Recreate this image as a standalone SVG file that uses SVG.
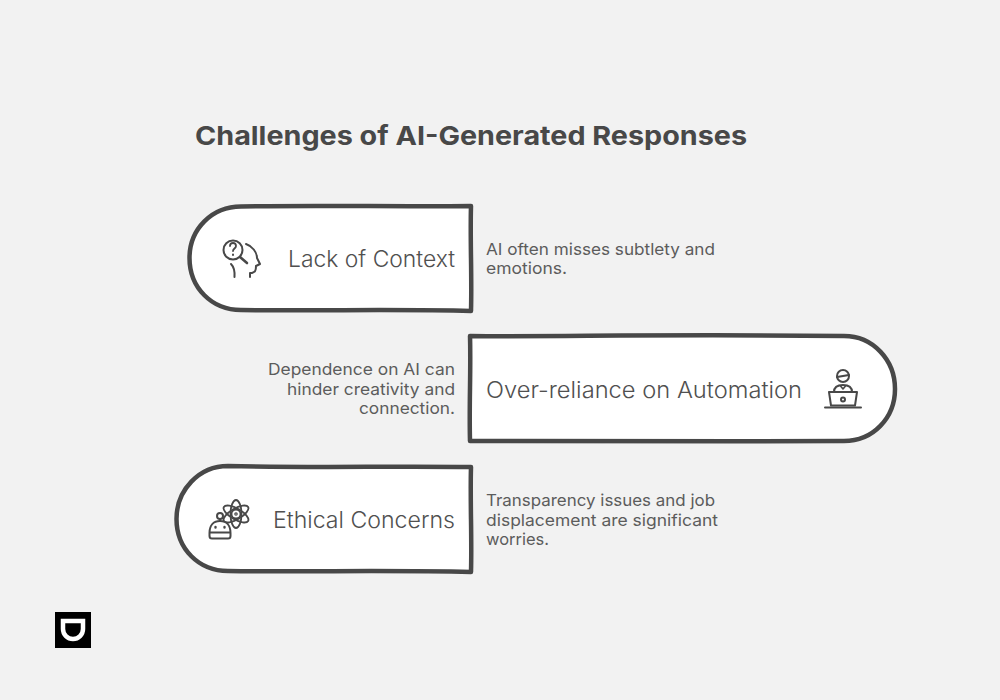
<svg xmlns="http://www.w3.org/2000/svg" width="1000" height="700" viewBox="0 0 1000 700">
  <style>
    text { font-family: "Inter", "Liberation Sans", sans-serif; fill: #555555; }
    .title { font-size: 26px; font-weight: 700; fill: #484848; }
    .label { font-size: 22.5px; font-weight: 300; fill: #505050; }
    .note { font-size: 16.5px; font-weight: 400; fill: #5c5c5c; }
    .shape { fill: #ffffff; stroke: #484848; stroke-width: 4.5; stroke-linejoin: round; }
    .icon { fill: none; stroke: #484848; stroke-width: 2; stroke-linecap: round; stroke-linejoin: round; }
  </style>
  <rect width="1000" height="700" fill="#f2f2f2"/>
  <text class="title" x="195" y="145" textLength="552" lengthAdjust="spacingAndGlyphs">Challenges of AI-Generated Responses</text>

  <g id="node-lack-of-context">
    <path class="shape" d="M471 206 C400 207 320 205 241 206.500 C212 206.500 189.500 229 189.500 258 C189.500 288 212 310 241 310 C320 311 400 309 471 311 C472 276 470 240 471 206 Z"/>
    <g class="icon">
      <circle cx="233" cy="250" r="9.500"/>
      <path d="M240 257 L247 263" stroke-width="2.600"/>
      <path d="M246 244 C252 246 257 252 257 258 L260 264 L256 266 C256 271 255 272 252 273 L250 273 L250 277"/>
      <path d="M231 264 C234 267 235 270 234.500 277"/>
      <path d="M230 246 C230 242 236 242 236 246 C236 248.500 233 248.500 233 251" stroke-width="1.800"/>
      <path d="M233 254.500 L233 255"/>
    </g>
    <text class="label" x="455" y="266.500" text-anchor="end" textLength="167" lengthAdjust="spacingAndGlyphs">Lack of Context</text>
  </g>
  <text class="note" x="486" y="255" textLength="229" lengthAdjust="spacingAndGlyphs">AI often misses subtlety and</text>
  <text class="note" x="486" y="274" textLength="81" lengthAdjust="spacingAndGlyphs">emotions.</text>

  <g id="node-over-reliance">
    <path class="shape" d="M470 336 C560 337 650 334 844 336 C873 336 895 360 895 389 C895 418 873 441 844 441 C720 442 600 440 470 441 C469 406 471 370 470 336 Z"/>
    <g class="icon">
      <circle cx="843" cy="376" r="6"/>
      <path d="M837 377 L849 375"/>
      <path d="M834 392 C834 387 838 385 843 385 C848 385 852 387 852 392"/>
      <path d="M840.500 386 L843 389 L845.500 386" stroke-width="1.600"/>
      <path d="M829 392 L857 392 L855 405.500 L831 405.500 Z"/>
      <circle cx="843" cy="399.500" r="2"/>
      <path d="M825 407.500 L861 407.500"/>
    </g>
    <text class="label" x="486" y="397.500" textLength="316" lengthAdjust="spacingAndGlyphs">Over-reliance on Automation</text>
  </g>
  <text class="note" x="455" y="375" text-anchor="end" textLength="187" lengthAdjust="spacingAndGlyphs">Dependence on AI can</text>
  <text class="note" x="455" y="395" text-anchor="end" textLength="168" lengthAdjust="spacingAndGlyphs">hinder creativity and</text>
  <text class="note" x="455" y="414" text-anchor="end" textLength="96" lengthAdjust="spacingAndGlyphs">connection.</text>

  <g id="node-ethical-concerns">
    <path class="shape" d="M471 467 C390 466 310 468 228 466 C199 466 176.500 490 176.500 519 C176.500 549 199 571 228 571 C310 572 390 570 471 572 C472 537 470 501 471 467 Z"/>
    <g class="icon">
      <circle cx="236" cy="514" r="4.500" stroke-width="1.800"/>
      <circle cx="236" cy="514" r="1.200" stroke-width="1.200"/>
      <ellipse cx="236" cy="514" rx="5.500" ry="14" stroke-width="1.800"/>
      <ellipse cx="236" cy="514" rx="5.500" ry="14" stroke-width="1.800" transform="rotate(60 236 514)"/>
      <ellipse cx="236" cy="514" rx="5.500" ry="14" stroke-width="1.800" transform="rotate(-60 236 514)"/>
      <circle cx="220" cy="516" r="3"/>
      <path d="M220 519 L220 521"/>
      <path d="M209.500 536 L209.500 533 C209.500 525 214 521 220 521 C226 521 230.500 525 230.500 533 L230.500 536 C230.500 538 229.500 538.500 228 538.500 L212 538.500 C210.500 538.500 209.500 538 209.500 536 Z" fill="#ffffff"/>
      <path d="M210 532.500 L230 532.500"/>
      <path d="M215.500 527 L215.500 527.500 M224.500 527 L224.500 527.500" stroke-width="2.400"/>
    </g>
    <text class="label" x="455" y="527.500" text-anchor="end" textLength="182" lengthAdjust="spacingAndGlyphs">Ethical Concerns</text>
  </g>
  <text class="note" x="486" y="506" textLength="229" lengthAdjust="spacingAndGlyphs">Transparency issues and job</text>
  <text class="note" x="486" y="526" textLength="232" lengthAdjust="spacingAndGlyphs">displacement are significant</text>
  <text class="note" x="486" y="545" textLength="63" lengthAdjust="spacingAndGlyphs">worries.</text>

  <g id="brand-mark">
    <rect x="55" y="612" width="36" height="36" fill="#000000"/>
    <path d="M63 621 L83 621 L83 629 A10 10 0 0 1 63 629 Z" fill="none" stroke="#ffffff" stroke-width="4.500"/>
  </g>
</svg>
